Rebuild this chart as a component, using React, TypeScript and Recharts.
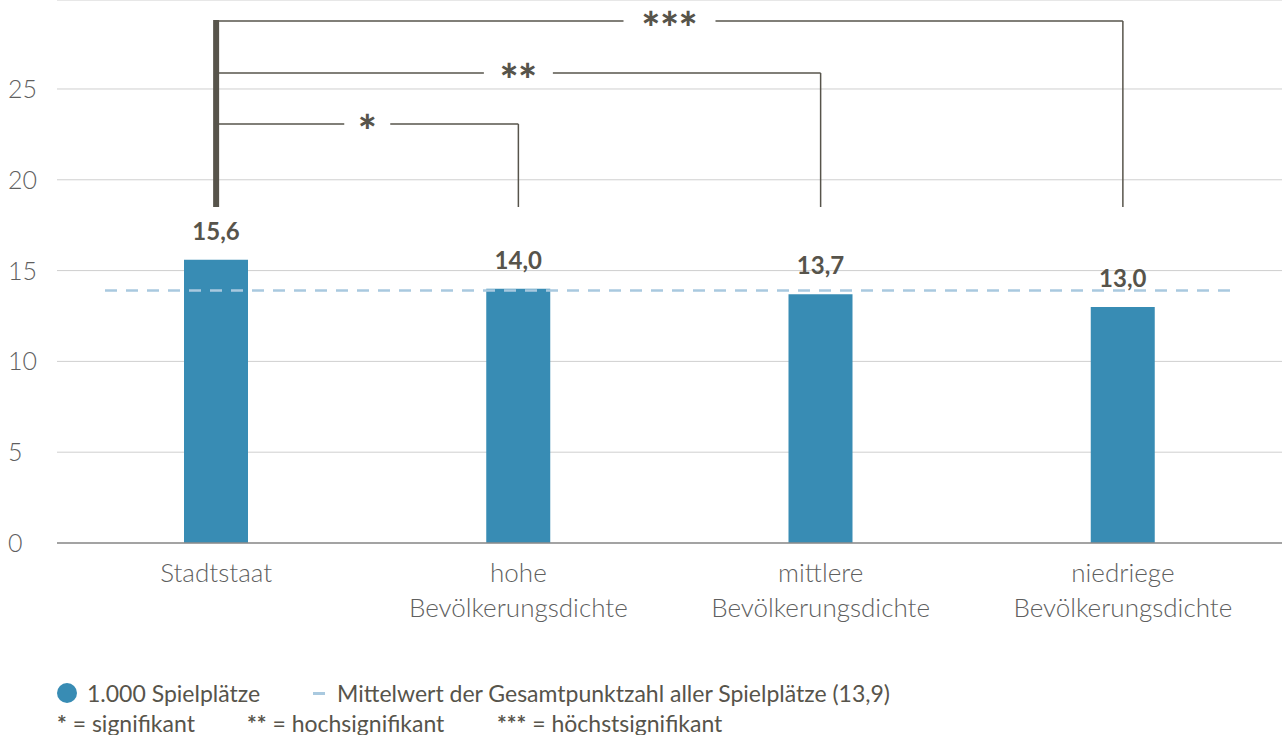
import { Bar, BarChart, CartesianGrid, LabelList, ReferenceLine, XAxis, YAxis } from "recharts";

const categories = [
  "Stadtstaat",
  "hohe Bevölkerungsdichte",
  "mittlere Bevölkerungsdichte",
  "niedriege Bevölkerungsdichte",
];
const scores = [15.6, 14.0, 13.7, 13.0];
const meanScore = 13.9;
const yTicks = [0, 5, 10, 15, 20, 25];

// significance brackets: all start at the first category
const sigTargets = [1, 2, 3];
const sigLabels = ["*", "**", "***"];
const sigLevels = [23.07, 25.88, 28.74];
const bracketBottom = 18.5;
const bracketTop = 28.8;

const data = categories.map((name, i) => ({ name, score: scores[i] }));

const FONT = "Lato, 'Open Sans', sans-serif";
const INK = "#57544b";
const BLUE = "#388cb4";
const MEAN = "#a9c9df";

function CategoryTick({ x, y, payload }: any) {
  const s = String(payload.value);
  const sp = s.indexOf(" ");
  const lines = sp < 0 ? [s] : [s.slice(0, sp), s.slice(sp + 1)];
  return (
    <text x={x} y={y} textAnchor="middle" fontFamily={FONT} fontWeight={300} fontSize={26} fill="#5f5f5f">
      {lines.map((l, i) => (
        <tspan key={i} x={x} dy={i === 0 ? 39 : 35}>
          {l}
        </tspan>
      ))}
    </text>
  );
}

function ValueTick({ y, payload }: any) {
  return (
    <text x={8} y={y} dy="0.36em" textAnchor="start" fontFamily={FONT} fontWeight={300} fontSize={25} fill="#5f5f5f">
      {payload.value}
    </text>
  );
}

function ValueLabel({ x, y, width, value }: any) {
  return (
    <text x={x + width / 2} y={y - 20} textAnchor="middle" fontFamily={FONT} fontWeight={700} fontSize={24} fill={INK}>
      {Number(value).toFixed(1).replace(".", ",")}
    </text>
  );
}

function MeanLine({ x1, x2, y1 }: any) {
  return <line x1={x1 + 48} x2={x2 - 47} y1={y1} y2={y1} stroke={MEAN} strokeWidth={2.5} strokeDasharray="12 9" />;
}

function bracketShape(label: string) {
  const gap = label.length * 23 + 23;
  return ({ x1, x2, y1 }: any) => {
    const cx = (x1 + x2) / 2;
    return (
      <g>
        <line x1={x1} x2={cx - gap / 2} y1={y1} y2={y1} stroke={INK} strokeWidth={1.5} />
        <line x1={cx + gap / 2} x2={x2} y1={y1} y2={y1} stroke={INK} strokeWidth={1.5} />
        <text x={cx} y={y1 + 23} textAnchor="middle" fontFamily={FONT} fontWeight={900} fontSize={44} fill={INK}>
          {label}
        </text>
      </g>
    );
  };
}

export default function App() {
  return (
    <div style={{ position: "absolute", left: 0, top: 0, width: 1282, height: 735, background: "#fff" }}>
      <BarChart width={1282} height={640} data={data} margin={{ top: 0, right: 0, bottom: 7, left: 0 }}>
        <CartesianGrid horizontal vertical={false} stroke="#cfcfcf" strokeWidth={1} />
        <XAxis
          dataKey="name"
          interval={0}
          padding={{ left: 8, right: 8 }}
          height={90}
          tickLine={false}
          tickSize={0}
          tickMargin={0}
          axisLine={{ stroke: "#8c8c8c", strokeWidth: 1.5 }}
          tick={<CategoryTick />}
        />
        <YAxis
          width={57}
          domain={[0, 29.9]}
          ticks={yTicks}
          allowDataOverflow
          axisLine={false}
          tickLine={false}
          tick={<ValueTick />}
        />
        <Bar dataKey="score" fill={BLUE} barSize={64} isAnimationActive={false}>
          <LabelList dataKey="score" content={<ValueLabel />} />
        </Bar>
        <ReferenceLine y={meanScore} shape={<MeanLine />} />
        <ReferenceLine
          segment={[
            { x: categories[0], y: bracketBottom },
            { x: categories[0], y: bracketTop },
          ]}
          stroke={INK}
          strokeWidth={6}
        />
        {sigTargets.map((t, i) => (
          <ReferenceLine
            key={"h" + i}
            segment={[
              { x: categories[0], y: sigLevels[i] },
              { x: categories[t], y: sigLevels[i] },
            ]}
            shape={bracketShape(sigLabels[i])}
          />
        ))}
        {sigTargets.map((t, i) => (
          <ReferenceLine
            key={"v" + i}
            segment={[
              { x: categories[t], y: bracketBottom },
              { x: categories[t], y: sigLevels[i] },
            ]}
            stroke={INK}
            strokeWidth={1.5}
          />
        ))}
      </BarChart>
      <div style={{ position: "absolute", left: 57, top: 678, fontFamily: FONT, fontSize: 23, color: INK, lineHeight: "30px" }}>
        <div style={{ display: "flex", alignItems: "center", whiteSpace: "nowrap" }}>
          <span style={{ width: 20, height: 20, borderRadius: 10, background: BLUE, display: "inline-block", marginRight: 10 }} />
          <span>1.000 Spielplätze</span>
          <span style={{ width: 12, height: 3, background: MEAN, display: "inline-block", marginLeft: 53, marginRight: 12 }} />
          <span>Mittelwert der Gesamtpunktzahl aller Spielplätze (13,9)</span>
        </div>
        <div style={{ position: "relative", height: 30, whiteSpace: "nowrap" }}>
          <span style={{ position: "absolute", left: 0 }}>
            <b>*</b> = signifikant
          </span>
          <span style={{ position: "absolute", left: 190 }}>
            <b>**</b> = hochsignifikant
          </span>
          <span style={{ position: "absolute", left: 440 }}>
            <b>***</b> = höchstsignifikant
          </span>
        </div>
      </div>
    </div>
  );
}
